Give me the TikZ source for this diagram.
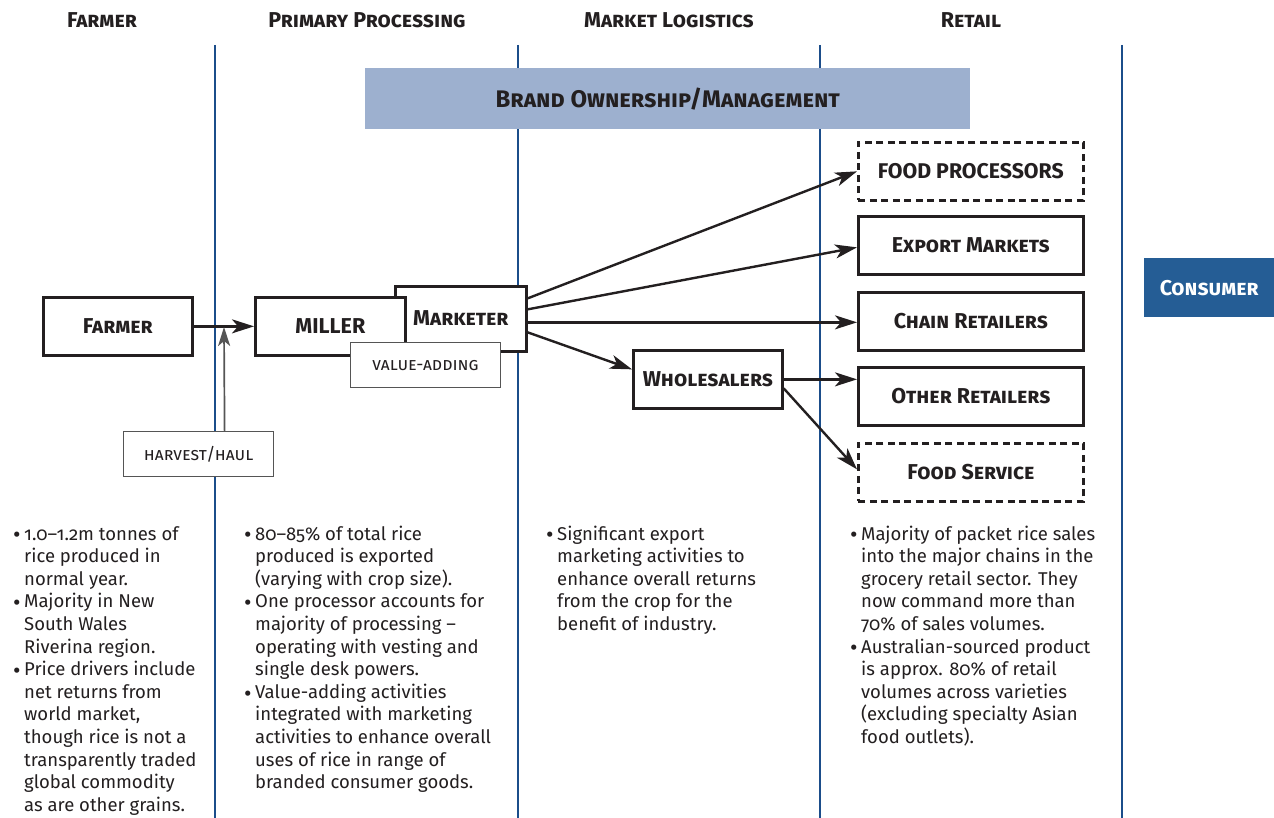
\documentclass[tikz,border=0pt]{standalone}
\usepackage{fontspec}
\setmainfont{Fira Sans}[Numbers=OldStyle]
\usetikzlibrary{arrows.meta}
\definecolor{rule}{HTML}{1B4D8A}
\definecolor{brand}{HTML}{9DB0CF}
\definecolor{cons}{HTML}{255D95}
\definecolor{ink}{HTML}{231F20}
\definecolor{tagline}{HTML}{555555}
\newcommand\bul{\makebox[11pt][l]{\raisebox{-2.8pt}{\fontsize{23}{22}\selectfont\textbullet}}}
\begin{document}
\begin{tikzpicture}[x=1pt,y=-1pt,
  colrule/.style={draw=rule, line width=2.5pt},
  head/.style={font=\fontsize{21.5}{24}\selectfont\bfseries\scshape, text=ink, inner sep=0pt},
  stage/.style={draw=ink, line width=2.7pt, fill=white, text=ink, inner sep=0pt, anchor=north west,
    font=\fontsize{21.5}{24}\selectfont\bfseries\scshape},
  outlet/.style={stage, minimum width=225pt, minimum height=58pt},
  tag/.style={draw=tagline, line width=1.2pt, fill=white, inner sep=0pt, anchor=north west,
    font=\fontsize{17.6}{20}\selectfont\scshape, text=ink, minimum width=150pt, minimum height=45pt},
  flow/.style={draw=ink, line width=2.4pt, -{Stealth[length=22pt,width=14pt,inset=6pt]}},
  note/.style={anchor=base west, inner sep=0pt, font=\fontsize{18.5}{22.6}\selectfont, text=ink}
]
\useasboundingbox (0,0) rectangle (1274,818);
\fill[white] (0,0) rectangle (1274,818);

% column dividers
\draw[colrule] (215,45) -- (215,818);
\draw[colrule] (518,45) -- (518,818);
\draw[colrule] (820,45) -- (820,818);
\draw[colrule] (1122,45) -- (1122,818);

% column headings
\node[head] (h1) at (102,20) {Farmer};
\node[head] (h2) at (367,20) {Primary Processing};
\node[head] (h3) at (669,20) {Market Logistics};
\node[head] (h4) at (971,20) {Retail};

% brand band
\node[fill=brand, anchor=north west, minimum width=605pt, minimum height=61pt, inner sep=0pt,
  font=\fontsize{24}{26}\selectfont\bfseries\scshape, text=ink] (brand) at (365,68) {Brand Ownership/Management};

% chain stages
\node[stage, minimum width=149pt, minimum height=58pt] (farmer) at (42,296) {Farmer};
\node[stage, minimum width=131pt, minimum height=65pt] (marketer) at (394,285) {\raisebox{2pt}{Marketer}};
\node[stage, minimum width=150pt, minimum height=58pt, font=\fontsize{21.5}{24}\selectfont\bfseries] (miller) at (254,296) {MILLER};
\node[tag] (value) at (350,342) {value-adding};
\node[tag] (harvest) at (123,431) {harvest/haul};
\node[stage, minimum width=149pt, minimum height=58pt] (whole) at (632,349) {Wholesalers};

% outlets
\node[outlet, dashed, dash pattern=on 7pt off 4.5pt, font=\fontsize{21.3}{24}\selectfont\bfseries] (fproc) at (857,141) {FOOD PROCESSORS};
\node[outlet] (export) at (857,215) {Export Markets};
\node[outlet] (chain) at (857,291) {Chain Retailers};
\node[outlet] (other) at (857,366) {Other Retailers};
\node[outlet, dashed, dash pattern=on 7pt off 4.5pt] (fserv) at (857,442) {Food Service};

% consumer
\node[fill=cons, anchor=north west, minimum width=130pt, minimum height=59pt, inner sep=0pt,
  font=\fontsize{21.4}{24}\selectfont\bfseries\scshape, text=white] (consumer) at (1144,258) {Consumer};

% flows
\coordinate (hjoin) at (224,327);
\coordinate (mk1) at ([yshift=20.5pt]marketer.east);
\coordinate (mk2) at ([yshift=9.5pt]marketer.east);
\coordinate (mk3) at ([yshift=-3.5pt]marketer.east);
\coordinate (mk4) at ([yshift=-13.5pt]marketer.east);
\coordinate (wh2) at ([yshift=-9pt]whole.east);
\draw[flow] (farmer.east) -- (miller.west);
\draw[draw=tagline, line width=1.7pt, -{Stealth[length=19pt,width=12pt,inset=5pt]}] ([xshift=26pt]harvest.north) -- (hjoin);
\draw[flow] (mk1) -- (fproc.west);
\draw[flow] (mk2) -- ([yshift=-2pt]export.west);
\draw[flow] (mk3) -- (mk3 -| chain.west);
\draw[flow] (mk4) -- ([yshift=10pt]whole.west);
\draw[flow] (whole.east) -- (whole.east -| other.west);
\draw[flow] (wh2) -- ([yshift=3pt]fserv.west);

% notes
\node[note] (n1) at (13,540) {\begin{tabular}[t]{@{}l@{}l@{}}
\bul & 1.0–1.2m tonnes of\\
 & rice produced in\\
 & normal year.\\
\bul & Majority in New\\
 & South Wales\\
 & Riverina region.\\
\bul & Price drivers include\\
 & net returns from\\
 & world market,\\
 & though rice is not a\\
 & transparently traded\\
 & global commodity\\
 & as are other grains.
\end{tabular}};
\node[note] (n2) at (244,540) {\begin{tabular}[t]{@{}l@{}l@{}}
\bul & 80–85\% of total rice\\
 & produced is exported\\
 & (varying with crop size).\\
\bul & One processor accounts for\\
 & majority of processing –\\
 & operating with vesting and\\
 & single desk powers.\\
\bul & Value-adding activities\\
 & integrated with marketing\\
 & activities to enhance overall\\
 & uses of rice in range of\\
 & branded consumer goods.
\end{tabular}};
\node[note] (n3) at (546,540) {\begin{tabular}[t]{@{}l@{}l@{}}
\bul & Significant export\\
 & marketing activities to\\
 & enhance overall returns\\
 & from the crop for the\\
 & benefit of industry.
\end{tabular}};
\node[note] (n4) at (850,540) {\begin{tabular}[t]{@{}l@{}l@{}}
\bul & Majority of packet rice sales\\
 & into the major chains in the\\
 & grocery retail sector. They\\
 & now command more than\\
 & 70\% of sales volumes.\\
\bul & Australian-sourced product\\
 & is approx. 80\% of retail\\
 & volumes across varieties\\
 & (excluding specialty Asian\\
 & food outlets).
\end{tabular}};
\end{tikzpicture}
\end{document}
